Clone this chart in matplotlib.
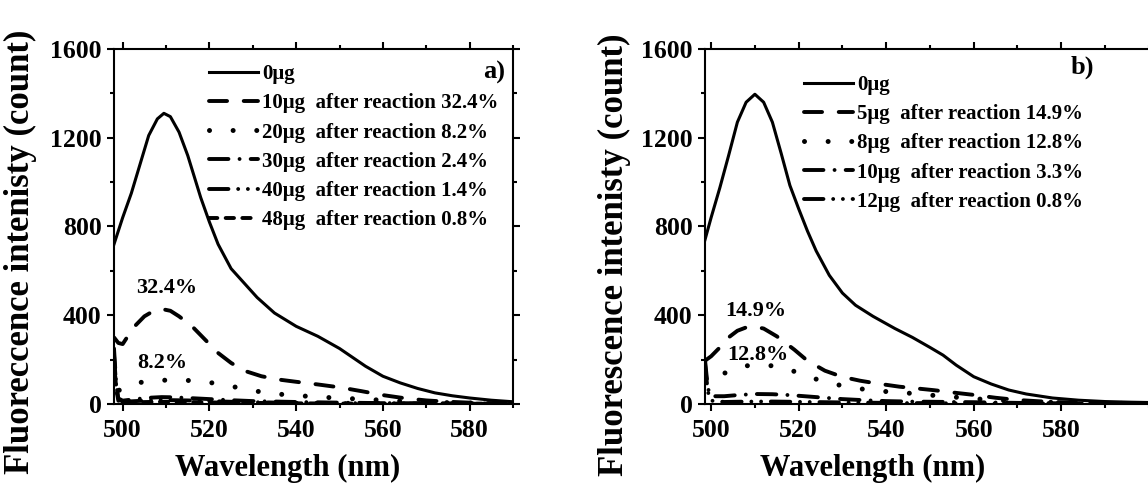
import matplotlib
matplotlib.use("Agg")
import matplotlib.pyplot as plt
from matplotlib.ticker import MultipleLocator

plt.rcParams['font.family'] = ['Liberation Serif', 'DejaVu Serif']
plt.rcParams['font.weight'] = 'bold'
plt.rcParams['lines.scale_dashes'] = False

# ---- panel a data ----
wl_a0 = [498, 499, 500, 502, 504, 506, 508, 509.5, 511, 513, 515, 518, 520, 522, 525, 528, 531,
         535, 540, 545, 550, 553, 556, 560, 564, 568, 572, 576, 580, 585, 590]
int_a0 = [720, 780, 840, 950, 1080, 1210, 1285, 1310, 1295, 1225, 1120, 930, 820, 720, 610, 545, 480,
          410, 350, 305, 250, 210, 170, 125, 95, 70, 50, 37, 27, 17, 10]
wl_a1 = [498, 499, 500, 501, 503, 505, 507, 509, 511, 513, 516, 519, 522, 525, 528, 532, 536, 540,
         545, 550, 555, 560, 565, 570, 575, 580, 585, 590]
int_a1 = [300, 275, 270, 300, 355, 395, 418, 428, 420, 395, 350, 290, 230, 185, 150, 125, 110, 100,
          88, 75, 58, 40, 26, 16, 10, 6, 4, 3]
wl_a2 = [498, 499, 500, 502, 505, 508, 511, 514, 517, 520, 523, 526, 530, 535, 540, 545, 550, 555,
         560, 565, 570, 580, 590]
int_a2 = [160, 60, 70, 90, 100, 106, 108, 107, 104, 97, 88, 76, 60, 46, 38, 32, 26, 22,
          17, 12, 8, 4, 2]
wl_a_low = [498, 498.5, 499, 500, 503, 506, 509, 512, 515, 520, 525, 530, 540, 550, 560, 570, 580, 590]
int_a3 = [250, 90, 25, 15, 22, 28, 31, 30, 27, 22, 17, 13, 9, 6, 4, 3, 2, 1]
int_a4 = [220, 80, 20, 10, 13, 16, 18, 17, 16, 13, 10, 8, 5, 4, 3, 2, 1, 1]
int_a5 = [200, 70, 15, 6, 8, 9, 10, 10, 9, 7, 6, 5, 3, 2, 2, 1, 1, 1]
labels_a = ["0\u03bcg",
            "10\u03bcg  after reaction 32.4%",
            "20\u03bcg  after reaction 8.2%",
            "30\u03bcg  after reaction 2.4%",
            "40\u03bcg  after reaction 1.4%",
            "48\u03bcg  after reaction 0.8%"]

# ---- panel b data ----
wl_b0 = [498.6, 500, 502, 504, 506, 508, 510, 512, 514, 516, 518, 520, 522, 524, 527, 530, 533, 537,
         542, 546, 550, 553, 556, 560, 564, 568, 572, 578, 584, 590, 596, 602]
int_b0 = [740, 840, 975, 1120, 1270, 1360, 1396, 1360, 1270, 1130, 985, 880, 780, 690, 580, 500, 445, 395,
          340, 300, 255, 220, 175, 123, 90, 63, 45, 27, 17, 11, 8, 6]
wl_b1 = [498.6, 500, 502, 504, 506, 508, 510, 512, 515, 519, 522, 526, 530, 534, 538, 543, 547, 551,
         556, 560, 565, 570, 575, 580, 590, 602]
int_b1 = [195, 215, 255, 300, 330, 345, 348, 340, 305, 245, 195, 150, 122, 105, 92, 78, 70, 62,
          50, 41, 28, 18, 12, 8, 4, 2]
wl_b2 = [498.6, 500, 502, 505, 508, 511, 514, 517, 520, 524, 528, 532, 536, 540, 545, 550, 555, 560,
         565, 570, 580, 590, 602]
int_b2 = [150, 120, 130, 155, 172, 176, 172, 160, 140, 112, 90, 75, 63, 56, 49, 40, 32, 24,
          17, 12, 6, 3, 2]
wl_b_low = [498.6, 499, 499.5, 500, 503, 506, 510, 514, 518, 522, 526, 530, 535, 540, 545, 550, 555,
            560, 570, 580, 590, 602]
int_b3 = [200, 120, 50, 35, 35, 40, 45, 44, 40, 34, 28, 22, 17, 13, 11, 10, 9, 8, 5, 3, 2, 1]
int_b4 = [180, 100, 30, 15, 9, 10, 11, 11, 10, 9, 8, 7, 6, 5, 4, 4, 3, 3, 2, 1, 1, 1]
labels_b = ["0\u03bcg",
            "5\u03bcg  after reaction 14.9%",
            "8\u03bcg  after reaction 12.8%",
            "10\u03bcg  after reaction 3.3%",
            "12\u03bcg  after reaction 0.8%"]

x_ticks = [500, 520, 540, 560, 580]

# line styles in order: solid, dash, dot, dash-dot, dash-dot-dot, short dash
styles = [
    dict(ls='-', lw=2.2),
    dict(ls=(0, (13, 12)), lw=2.8, dash_capstyle='round'),
    dict(ls=(0, (0.01, 17)), lw=3.6, dash_capstyle='round'),
    dict(ls=(0, (14, 8, 0.01, 8)), lw=2.8, dash_capstyle='round'),
    dict(ls=(0, (14, 7, 0.01, 7, 0.01, 7)), lw=2.8, dash_capstyle='round'),
    dict(ls=(0, (6, 6)), lw=2.8, dash_capstyle='round'),
]


def style_axes(ax, xlim):
    ax.set_xlim(*xlim)
    ax.set_ylim(0, 1600)
    ax.set_xticks(x_ticks)
    ax.xaxis.set_minor_locator(MultipleLocator(10))
    ax.yaxis.set_major_locator(MultipleLocator(400))
    ax.yaxis.set_minor_locator(MultipleLocator(200))
    ax.tick_params(which='both', direction='out', top=True, right=True, width=1.5, labelsize=18.5)
    ax.tick_params(which='major', length=5, pad=4)
    ax.tick_params(which='minor', length=3)
    ax.tick_params(axis='x', pad=6)
    for sp in ax.spines.values():
        sp.set_linewidth(1.5)
    ax.set_xlabel("Wavelength (nm)", fontsize=22, fontweight='bold')


def add_legend(ax, anchor):
    ax.legend(loc='upper left', bbox_to_anchor=anchor, frameon=False, fontsize=15,
              handlelength=2.35, handletextpad=0.2, labelspacing=0.44, borderpad=0, borderaxespad=0)


fig = plt.figure(figsize=(11.48, 4.83), dpi=100)

# panel a
ax = fig.add_axes([0.0993, 0.1636, 0.3476, 0.735])
series_a = [(wl_a0, int_a0), (wl_a1, int_a1), (wl_a2, int_a2),
            (wl_a_low, int_a3), (wl_a_low, int_a4), (wl_a_low, int_a5)]
for (x, y), st, lab in zip(series_a, styles, labels_a):
    ax.plot(x, y, color='black', label=lab, **st)
style_axes(ax, (498, 590))
ax.set_ylabel("Fluoreccence intenisty (count)", fontsize=25, fontweight='bold')
ax.yaxis.set_label_coords(-0.193, 0.43)
ax.xaxis.set_label_coords(0.434, -0.14)
add_legend(ax, (0.238, 0.957))
ax.text(0.98, 0.935, "a)", transform=ax.transAxes, ha='right', va='center', fontsize=19)
ax.text(510.2, 523, "32.4%", ha='center', va='center', fontsize=16)
ax.text(509.2, 185, "8.2%", ha='center', va='center', fontsize=16)

# panel b (runs past the right edge of the figure)
bx = fig.add_axes([0.6141, 0.1636, 0.3946, 0.735])
series_b = [(wl_b0, int_b0), (wl_b1, int_b1), (wl_b2, int_b2),
            (wl_b_low, int_b3), (wl_b_low, int_b4)]
for (x, y), st, lab in zip(series_b, styles, labels_b):
    bx.plot(x, y, color='black', label=lab, **st)
style_axes(bx, (498.6, 602.1))
bx.set_ylabel("Fluorescence intenisty (count)", fontsize=25, fontweight='bold')
bx.yaxis.set_label_coords(-0.164, 0.42)
bx.xaxis.set_label_coords(0.369, -0.14)
add_legend(bx, (0.2185, 0.9265))
bx.text(0.808, 0.949, "b)", transform=bx.transAxes, ha='left', va='center', fontsize=19)
bx.text(510.1, 420, "14.9%", ha='center', va='center', fontsize=16)
bx.text(510.6, 221, "12.8%", ha='center', va='center', fontsize=16)

fig.savefig("out.png", dpi=100)
